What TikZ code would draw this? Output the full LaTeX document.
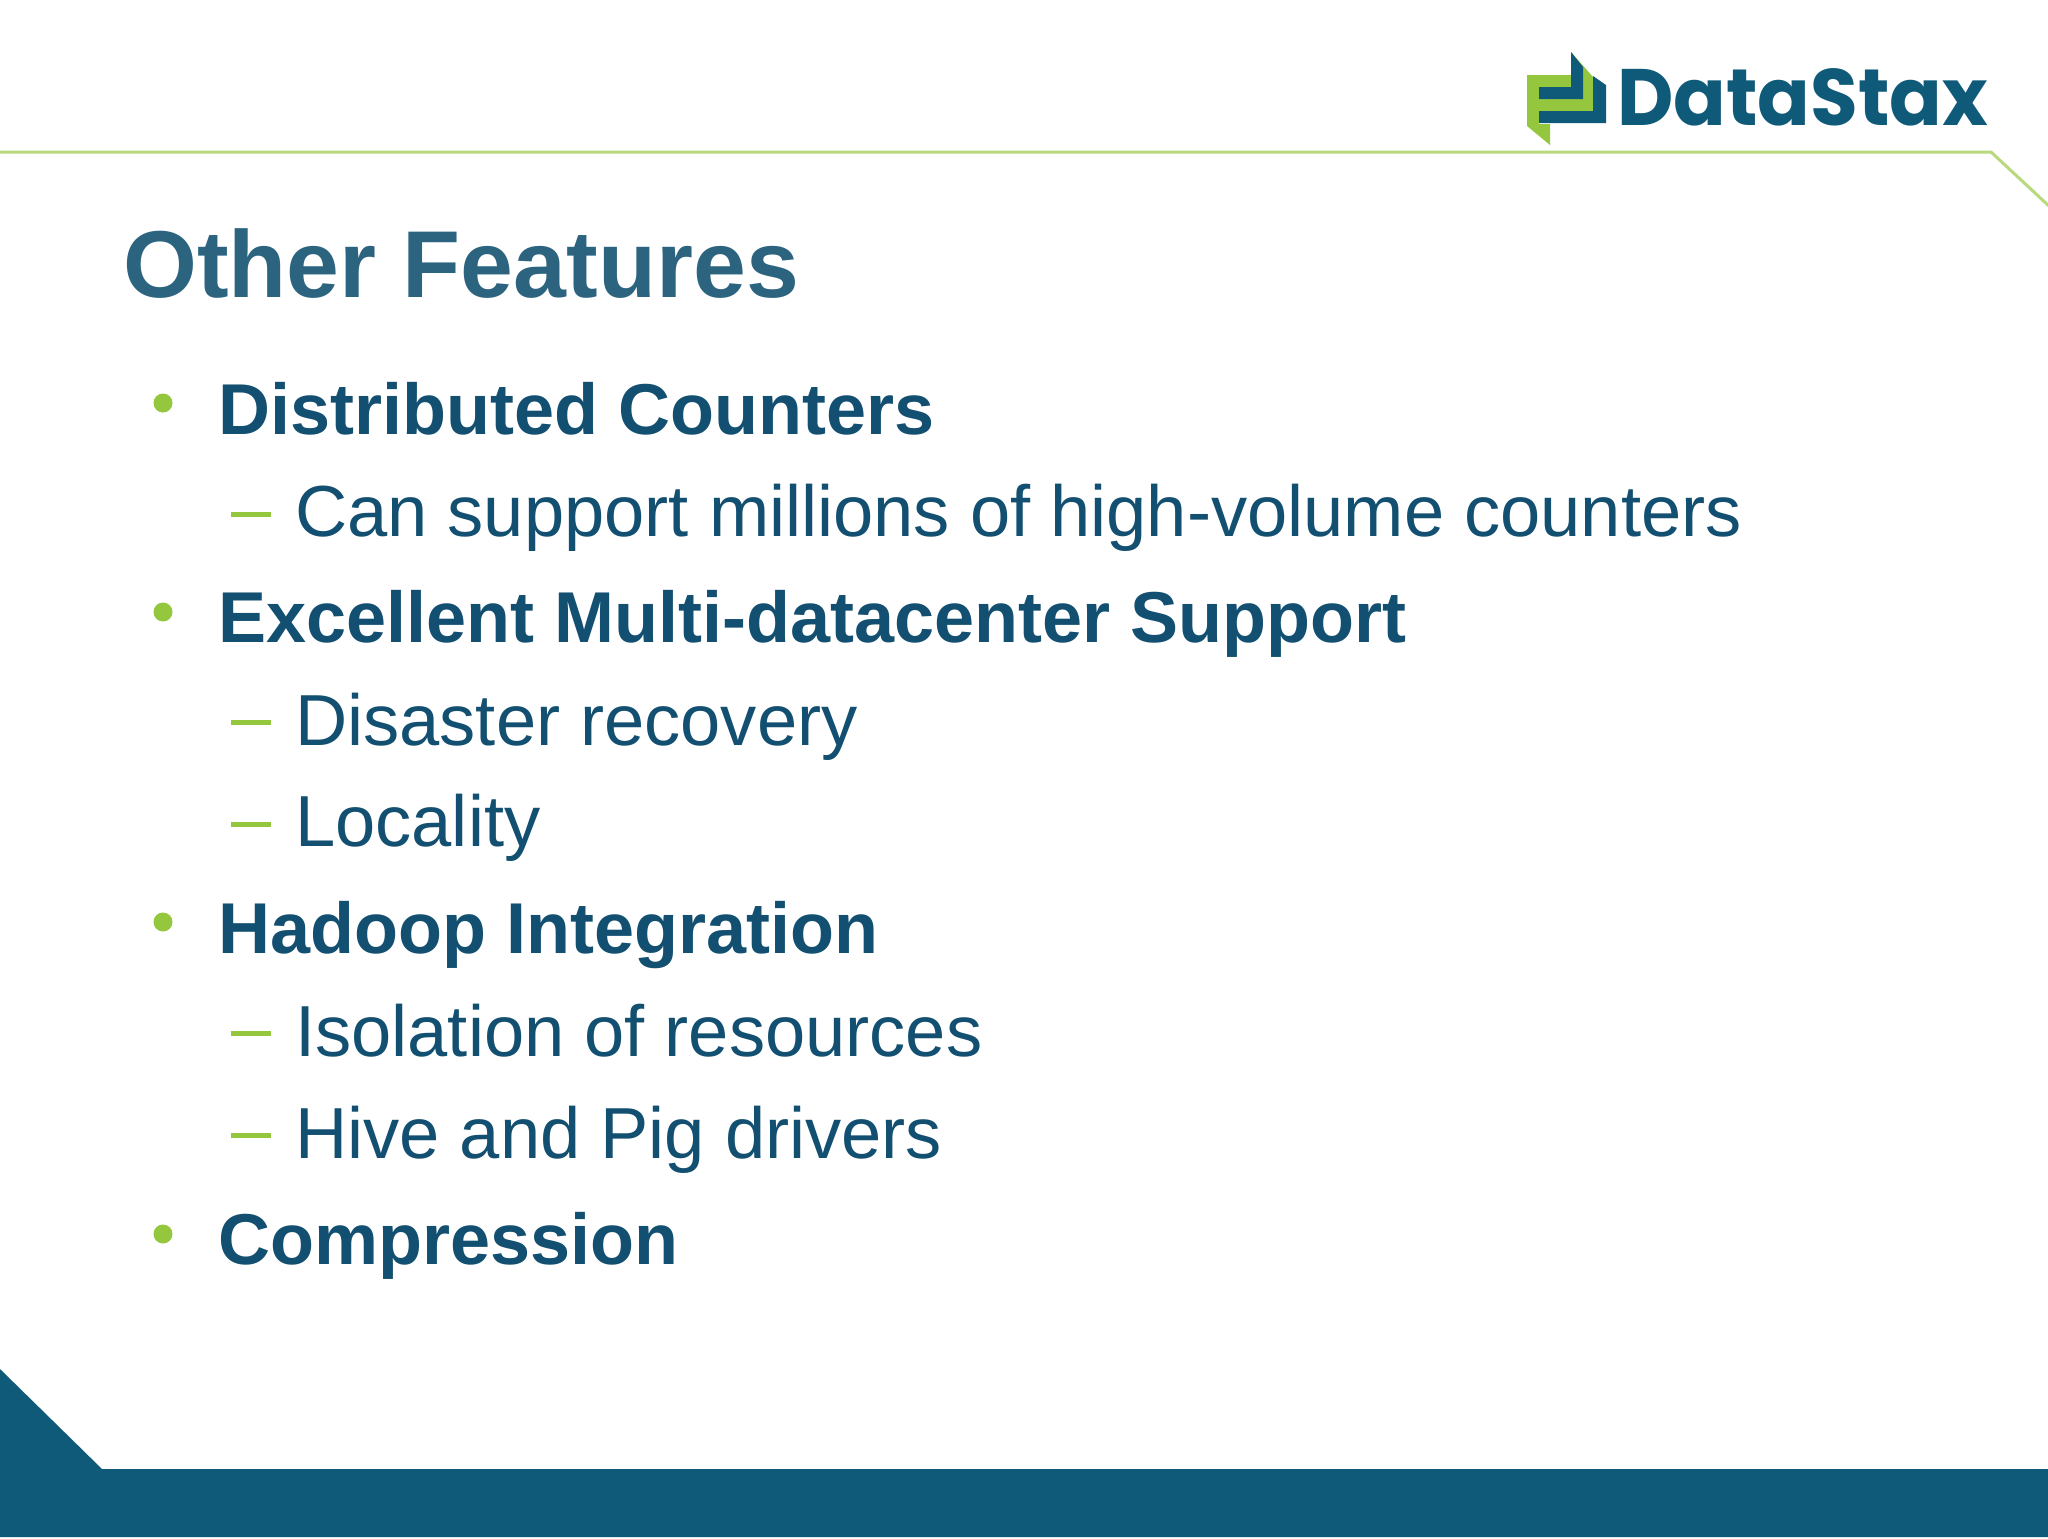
\documentclass[tikz,border=0pt]{standalone}
\usepackage{fontspec}
\setmainfont{Liberation Sans}
\newfontfamily\logofont{Poppins}
\definecolor{barblue}{HTML}{0F5A78}
\definecolor{titleblue}{HTML}{2C6480}
\definecolor{textblue}{HTML}{124F70}
\definecolor{accent}{HTML}{94C73D}
\definecolor{rulegreen}{HTML}{B8D97E}
\tikzset{
  head/.style={anchor=base west,inner sep=0pt,text=textblue,font=\fontsize{72}{72}\selectfont\bfseries},
  sub/.style={anchor=base west,inner sep=0pt,text=textblue,font=\fontsize{72.3}{72.3}\selectfont},
  dot/.style={fill=accent,draw=none,circle,minimum size=19pt,inner sep=0pt},
  dashmark/.style={fill=accent,draw=none,rectangle,minimum width=40pt,minimum height=5pt,inner sep=0pt}
}
\begin{document}
\begin{tikzpicture}[x=1pt,y=-1pt]
\useasboundingbox (0,0) rectangle (2048,1539);
\fill[white] (0,0) rectangle (2048,1539);
% footer
\fill[barblue] (0,1369) -- (102,1469) -- (2048,1469) -- (2048,1537) -- (0,1537) -- cycle;
% header rule
\draw[rulegreen,line width=3pt] (0,152) -- (1991,152) -- (2050,207);
% logo
\fill[accent] (1527,75) -- (1571,75) -- (1571,52) -- (1593,77) -- (1593,112) -- (1539,112) -- (1539,124) -- (1550,124) -- (1550,145) -- (1527,126) -- cycle;
\fill[barblue] (1539,87) -- (1571,87) -- (1571,52) -- (1583,67) -- (1583,99) -- (1539,99) -- cycle;
\fill[barblue] (1593,76) -- (1606,85) -- (1606,123) -- (1539,123) -- (1539,111) -- (1593,111) -- cycle;
\node[anchor=base west,inner sep=0pt,text=barblue,font=\logofont\bfseries\fontsize{80}{80}\selectfont,xscale=0.97] (logo) at (1617,125) {DataStax};
% title
\node[anchor=base west,inner sep=0pt,text=titleblue,font=\fontsize{95}{95}\selectfont\bfseries] (title) at (123,297) {Other Features};
% bullets
\node[dot] (b1) at (163,403) {};
\node[head] (h1) at (218,434) {Distributed Counters};
\node[dashmark] (d1) at (251,514) {};
\node[sub] (s1) at (295,536) {Can support millions of high-volume counters};
\node[dot] (b2) at (163,612) {};
\node[head] (h2) at (218,642) {Excellent Multi-datacenter Support};
\node[dashmark] (d2) at (251,722) {};
\node[sub] (s2) at (295,745) {Disaster recovery};
\node[dashmark] (d3) at (251,824) {};
\node[sub] (s3) at (295,846) {Locality};
\node[dot] (b3) at (163,922) {};
\node[head] (h3) at (218,953) {Hadoop Integration};
\node[dashmark] (d4) at (251,1033) {};
\node[sub] (s4) at (295,1056) {Isolation of resources};
\node[dashmark] (d5) at (251,1135) {};
\node[sub] (s5) at (295,1158) {Hive and Pig drivers};
\node[dot] (b4) at (163,1234) {};
\node[head] (h4) at (218,1264) {Compression};
\end{tikzpicture}
\end{document}
